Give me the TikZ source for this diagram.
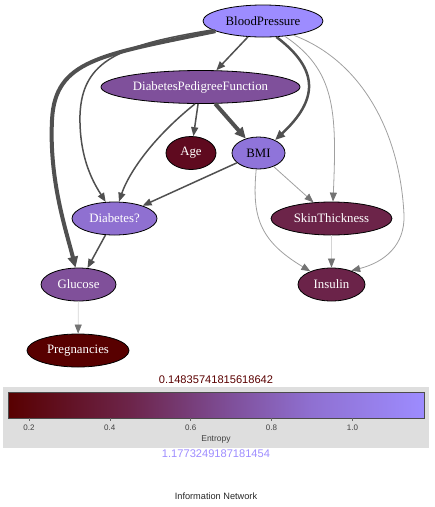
\documentclass[tikz,border=0pt]{standalone}
\usepackage{fontspec}
\setmainfont{Liberation Serif}
\newfontfamily\cbfont{Liberation Sans}
\usetikzlibrary{shapes.geometric,arrows.meta}
\definecolor{cBP}{HTML}{9D8CFF}
\definecolor{cDPF}{HTML}{7F509B}
\definecolor{cAge}{HTML}{5F0A1F}
\definecolor{cBMI}{HTML}{8F74DA}
\definecolor{cDia}{HTML}{8F70D1}
\definecolor{cSkin}{HTML}{6C2449}
\definecolor{cGlu}{HTML}{80509A}
\definecolor{cIns}{HTML}{6B2349}
\definecolor{cPreg}{HTML}{580000}
\definecolor{edark}{HTML}{505050}
\definecolor{ethin}{HTML}{A0A0A0}
\definecolor{efaint}{HTML}{D4D4D4}
\definecolor{panel}{HTML}{DEDEDE}
\definecolor{lowtxt}{HTML}{5A0000}
\definecolor{hightxt}{HTML}{9D8CFF}
\pgfdeclarehorizontalshading{entropyshade}{100bp}{rgb(0bp)=(0.345,0,0); rgb(25bp)=(0.345,0,0); rgb(39.5bp)=(0.424,0.141,0.286); rgb(52bp)=(0.498,0.314,0.608); rgb(61.5bp)=(0.561,0.439,0.82); rgb(75bp)=(0.616,0.549,1); rgb(100bp)=(0.616,0.549,1)}
\begin{document}
\begin{tikzpicture}[x=1pt,y=-1pt,
  vnode/.style={ellipse, draw=black, line width=0.8pt, inner sep=0pt, minimum height=33pt, font=\fontsize{12.8}{15}\selectfont},
  wtext/.style={text=white},
  midedge/.style={draw=edark, line width=1.5pt, -{Triangle[length=9pt,width=7pt]}},
  boldedge/.style={draw=edark, line width=2.5pt, -{Triangle[length=10pt,width=8pt]}},
  heavyedge/.style={draw=edark, line width=4pt, -{Triangle[length=11pt,width=10pt]}},
  thinedge/.style={draw=ethin, line width=0.8pt, -{Triangle[length=9pt,width=7pt,color=edark!80]}},
  faintedge/.style={draw=efaint, line width=0.7pt, -{Triangle[length=9pt,width=7pt,color=edark!80]}},
  cbtext/.style={font=\cbfont\fontsize{11.1}{13}\selectfont, inner sep=0pt},
  ticklab/.style={font=\cbfont\fontsize{8}{9}\selectfont, text=black!75, inner sep=0pt},
]
\useasboundingbox (0,0) rectangle (435,507);

% nodes
\node[vnode, fill=cBP, minimum width=120pt, minimum height=32pt] (bp) at (263,21) {BloodPressure};
\node[vnode, fill=cDPF, wtext, minimum width=199pt] (dpf) at (200.5,87) {DiabetesPedigreeFunction};
\node[vnode, fill=cAge, wtext, minimum width=50pt] (age) at (191,153) {Age};
\node[vnode, fill=cBMI, minimum width=53pt, minimum height=32pt] (bmi) at (258.5,153) {BMI};
\node[vnode, fill=cDia, wtext, minimum width=85pt] (dia) at (114.5,218.5) {Diabetes?};
\node[vnode, fill=cSkin, wtext, minimum width=121pt] (skin) at (331.5,218.5) {SkinThickness};
\node[vnode, fill=cGlu, wtext, minimum width=75pt] (glu) at (78.5,284.5) {Glucose};
\node[vnode, fill=cIns, wtext, minimum width=67pt] (ins) at (331.5,284.5) {Insulin};
\node[vnode, fill=cPreg, wtext, minimum width=102pt] (preg) at (78,350.5) {Pregnancies};

% edges
\draw[heavyedge] (bp.192) .. controls (100,55) and (55,60) .. (52,120)
   .. controls (49,180) and (66,230) .. (glu.100);
\draw[midedge] (bp.190) .. controls (120,45) and (82,60) .. (80,115)
   .. controls (79,160) and (95,185) .. (dia.118);
\draw[midedge] (bp) -- (dpf);
\draw[boldedge] (bp.-50) .. controls (320,70) and (318,100) .. (bmi.38);
\draw[thinedge] (bp.-35) .. controls (335,70) and (337,110) .. (skin.85);
\draw[thinedge] (bp.-25) .. controls (360,60) and (400,130) .. (404,215)
   .. controls (405,245) and (385,262) .. (ins.35);
\draw[midedge] (dpf) -- (age);
\draw[heavyedge] (dpf) -- (bmi);
\draw[midedge] (dpf.252) .. controls (150,140) and (128,175) .. (dia.75);
\draw[midedge] (bmi) -- (dia);
\draw[thinedge] (bmi) -- (skin);
\draw[thinedge] (bmi.262) .. controls (252,215) and (258,240) .. (ins.148);
\draw[faintedge] (skin) -- (ins);
\draw[midedge] (dia) -- (glu);
\draw[faintedge] (glu) -- (preg);

% colour bar
\node[cbtext, text=lowtxt] (lowlab) at (216,380) {0.14835741815618642};
\fill[panel] (3,387) rectangle (429,448);
\shade[shading=entropyshade] (8,392) rectangle (424,418);
\draw[black!70, line width=0.8pt] (8,392) rectangle (424,418);
\foreach \xx/\lab in {28.9/0.2, 109.8/0.4, 190.7/0.6, 271.5/0.8, 352.4/1.0} {
  \draw[black!60, line width=0.6pt] (\xx,418) -- (\xx,421);
  \node[ticklab] at (\xx,428) {\lab};
}
\node[ticklab, font=\cbfont\fontsize{8.5}{9}\selectfont] (entlab) at (216,439) {Entropy};
\node[cbtext, text=hightxt] (highlab) at (216,454) {1.1773249187181454};
\node[font=\cbfont\fontsize{9.2}{11}\selectfont, text=black!85, inner sep=0pt] (title) at (216,496) {Information Network};
\end{tikzpicture}
\end{document}
